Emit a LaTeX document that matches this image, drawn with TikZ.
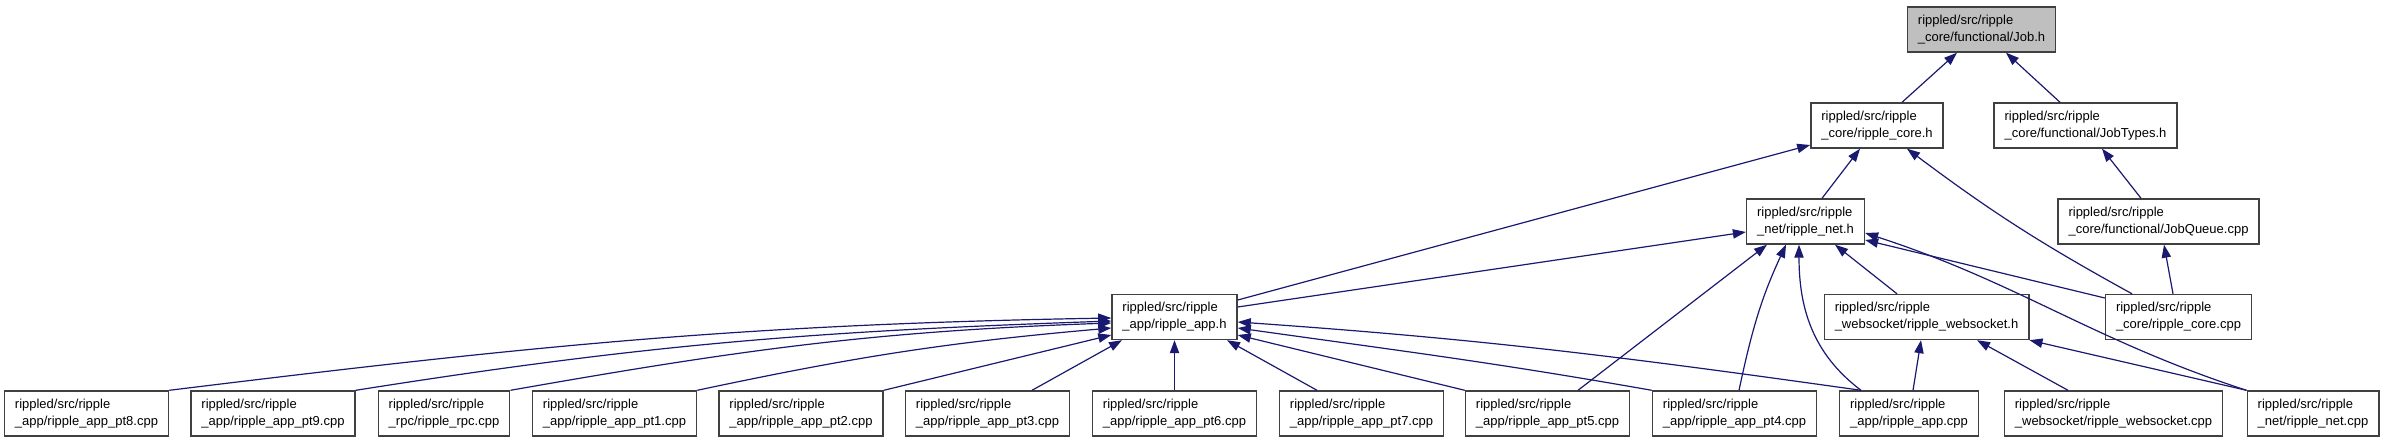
\documentclass[tikz,border=0pt]{standalone}
\usepackage{fontspec}
\setmainfont{Liberation Sans}
\usetikzlibrary{arrows.meta}
\definecolor{edgeblue}{HTML}{191970}
\definecolor{boxline}{HTML}{404040}
\definecolor{curfill}{HTML}{BFBFBF}

\begin{document}
\begin{tikzpicture}[x=1pt,y=1pt,font=\fontsize{13}{17}\selectfont,
  file/.style={draw=boxline,line width=1.4pt,fill=white,align=left,minimum height=45pt,inner xsep=10.5pt,inner ysep=0pt},
  cur/.style={file,fill=curfill},
  dep/.style={draw=edgeblue,line width=1.2pt,-{Triangle[length=13pt,width=9.3pt]}}]
\useasboundingbox (0,0) rectangle (2384,-443);
% upper part
\node[cur]  (jobh)    at (1981.5,-29.5) {rippled/src/ripple\\\_core/functional/Job.h};
\node[file] (coreh)   at (1877,-125.5)  {rippled/src/ripple\\\_core/ripple\_core.h};
\node[file] (types)   at (2085.5,-125.5) {rippled/src/ripple\\\_core/functional/JobTypes.h};
\node[file] (neth)    at (1805.5,-221.5) {rippled/src/ripple\\\_net/ripple\_net.h};
\node[file] (queue)   at (2158.5,-221.5) {rippled/src/ripple\\\_core/functional/JobQueue.cpp};
\node[file] (apph)    at (1174.5,-317)  {rippled/src/ripple\\\_app/ripple\_app.h};
\node[file] (wsh)     at (1926.5,-317)  {rippled/src/ripple\\\_websocket/ripple\_websocket.h};
\node[file] (corecpp) at (2178.5,-317)  {rippled/src/ripple\\\_core/ripple\_core.cpp};
% bottom row
\node[file] (pt8)    at (86.5,-413.5)   {rippled/src/ripple\\\_app/ripple\_app\_pt8.cpp};
\node[file] (pt9)    at (273,-413.5)    {rippled/src/ripple\\\_app/ripple\_app\_pt9.cpp};
\node[file] (rpc)    at (444,-413.5)    {rippled/src/ripple\\\_rpc/ripple\_rpc.cpp};
\node[file] (pt1)    at (614.5,-413.5)  {rippled/src/ripple\\\_app/ripple\_app\_pt1.cpp};
\node[file] (pt2)    at (801,-413.5)    {rippled/src/ripple\\\_app/ripple\_app\_pt2.cpp};
\node[file] (pt3)    at (987.5,-413.5)  {rippled/src/ripple\\\_app/ripple\_app\_pt3.cpp};
\node[file] (pt6)    at (1174.5,-413.5) {rippled/src/ripple\\\_app/ripple\_app\_pt6.cpp};
\node[file] (pt7)    at (1361.5,-413.5) {rippled/src/ripple\\\_app/ripple\_app\_pt7.cpp};
\node[file] (pt5)    at (1547.5,-413.5) {rippled/src/ripple\\\_app/ripple\_app\_pt5.cpp};
\node[file] (pt4)    at (1734.5,-413.5) {rippled/src/ripple\\\_app/ripple\_app\_pt4.cpp};
\node[file] (appcpp) at (1909,-413.5)   {rippled/src/ripple\\\_app/ripple\_app.cpp};
\node[file] (wscpp)  at (2113.5,-413.5) {rippled/src/ripple\\\_websocket/ripple\_websocket.cpp};
\node[file] (netcpp) at (2313,-413.5)   {rippled/src/ripple\\\_net/ripple\_net.cpp};
% includes, upper part
\draw[dep] ([xshift=25pt]coreh.north) -- ([xshift=-24.5pt]jobh.south);
\draw[dep] ([xshift=-25.5pt]types.north) -- ([xshift=24.5pt]jobh.south);
\draw[dep] ([xshift=-17.5pt]queue.north) -- ([xshift=16.5pt]types.south);
\draw[dep] ([xshift=-5.5pt]corecpp.north) -- ([xshift=5.5pt]queue.south);
\draw[dep] ([xshift=-46.5pt]corecpp.north) to[bend left=4] ([xshift=30pt]coreh.south);
\draw[dep] ([xshift=16.5pt]neth.north) -- ([xshift=-17pt]coreh.south);
\draw[dep] ([yshift=17pt]apph.east) -- ([yshift=-19.5pt]coreh.west);
\draw[dep] ([yshift=10pt]apph.east) -- ([yshift=-10.5pt]neth.west);
\draw[dep] ([xshift=-29.5pt]wsh.north) -- ([xshift=29.5pt]neth.south);
\draw[dep] ([yshift=19pt]corecpp.west) -- ([yshift=-18.5pt]neth.east);
\draw[dep] (netcpp.north west) to[out=162,in=-18] ([yshift=-11.5pt]neth.east);
\draw[dep] (netcpp.north west) -- (wsh.south east);
\draw[dep] ([xshift=-45.5pt]wscpp.north) -- ([xshift=50.5pt]wsh.south);
\draw[dep] ([xshift=4pt]appcpp.north) -- ([xshift=-5.5pt]wsh.south);
\draw[dep] ([xshift=-48pt]appcpp.north) to[out=143,in=270] ([xshift=-6.5pt]neth.south);
\draw[dep] ([xshift=4.5pt]pt4.north) to[out=78,in=245] ([xshift=-19.5pt]neth.south);
\draw[dep] ([xshift=30.5pt]pt5.north) -- ([xshift=-38.5pt]neth.south);
% includes of ripple_app.h
\draw[dep] ([xshift=-48pt]appcpp.north) to[out=172,in=-4] ([yshift=-5pt]apph.east);
\draw[dep] (pt4.north west) to[out=170,in=-8] ([yshift=-11pt]apph.east);
\draw[dep] (pt5.north west) -- ([yshift=-18pt]apph.east);
\draw[dep] ([xshift=-44.5pt]pt7.north) -- ([xshift=52.5pt]apph.south);
\draw[dep] (pt6) -- (apph);
\draw[dep] ([xshift=44.5pt]pt3.north) -- ([xshift=-52.5pt]apph.south);
\draw[dep] (pt2.north east) -- ([yshift=-18pt]apph.west);
\draw[dep] (pt1.north east) to[out=12,in=185] ([yshift=-11pt]apph.west);
\draw[dep] (rpc.north east) to[out=10,in=182] ([yshift=-6pt]apph.west);
\draw[dep] (pt9.north east) to[out=9,in=182] ([yshift=-4pt]apph.west);
\draw[dep] (pt8.north east) to[out=7,in=181] ([yshift=-1pt]apph.west);
\end{tikzpicture}
\end{document}
